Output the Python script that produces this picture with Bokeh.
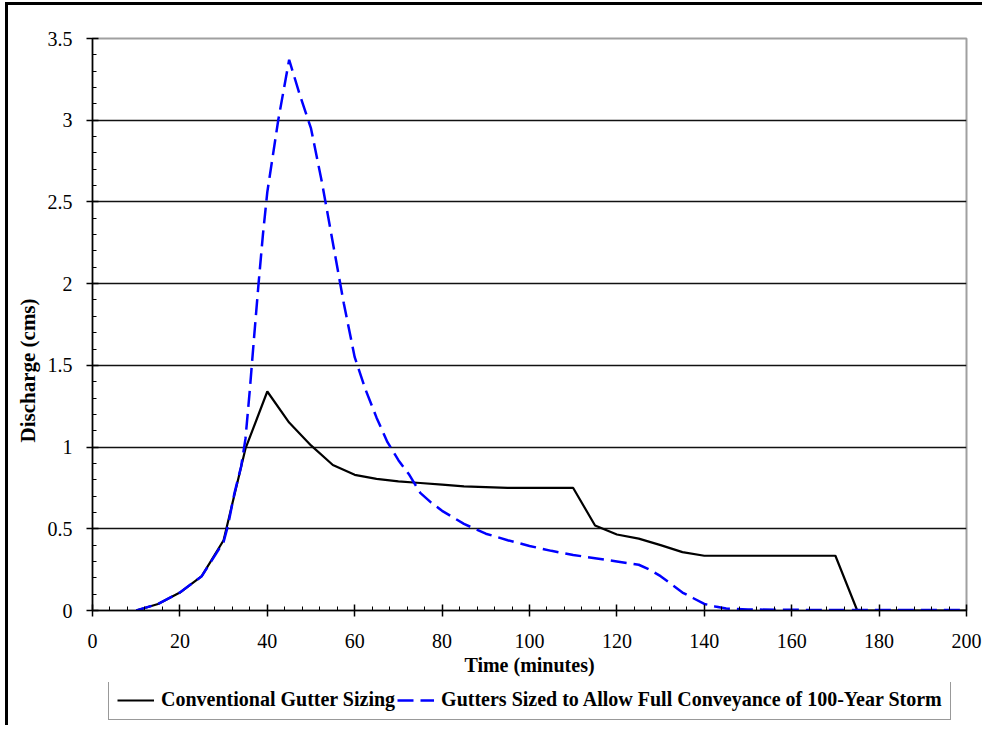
from bokeh.plotting import figure
from bokeh.layouts import column
from bokeh.models import (Legend, LegendItem, FixedTicker, SingleIntervalTicker,
                          Range1d, NumeralTickFormatter, Title)
from bokeh.embed import file_html
from bokeh.resources import INLINE

# Data
conv_time = [10, 15, 20, 25, 30, 35, 40, 45, 50, 55, 60, 65, 70, 75, 80, 85, 90, 95,
             100, 105, 110, 115, 120, 125, 130, 135, 140, 145, 150, 155, 160, 165, 170,
             175, 180, 185, 190, 195, 200]
conv_q = [0.0, 0.04, 0.11, 0.21, 0.43, 0.99, 1.34, 1.15, 1.01, 0.89, 0.83, 0.805, 0.79,
          0.78, 0.77, 0.76, 0.755, 0.75,
          0.75, 0.75, 0.75, 0.52, 0.465, 0.44, 0.40, 0.357, 0.335, 0.335, 0.335, 0.335,
          0.335, 0.335, 0.335,
          0.0, 0.0, 0.0, 0.0, 0.0, 0.0]

full_time = [10, 15, 20, 25, 30, 31, 32.5, 34, 35, 36, 37, 38, 39, 40, 42.5, 45, 47.5,
             50, 52.5, 55, 57.5, 60, 62.5, 65, 67.5, 70, 72.5, 75, 77.5, 80, 85, 90, 95,
             100, 105, 110, 115, 120, 125, 127.5, 130, 132.5, 135, 137.5, 140, 142.5,
             145, 150, 160, 170, 180, 190, 200]
full_q = [0.0, 0.04, 0.11, 0.21, 0.42, 0.52, 0.72, 0.88, 1.05, 1.35, 1.68, 2.0, 2.3,
          2.56, 3.0, 3.37, 3.15,
          2.95, 2.62, 2.25, 1.88, 1.55, 1.35, 1.18, 1.03, 0.92, 0.83, 0.72, 0.66, 0.61,
          0.53, 0.47, 0.43,
          0.395, 0.365, 0.34, 0.32, 0.30, 0.28, 0.25, 0.21, 0.16, 0.11, 0.075, 0.04,
          0.025, 0.012, 0.006, 0.004, 0.003, 0.003, 0.003, 0.003]

grid_values = [0.5, 1.0, 1.5, 2.0, 2.5, 3.0]

series_labels = ["Conventional Gutter Sizing",
                 "Gutters Sized to Allow Full Conveyance of 100-Year Storm"]
x_title = "Time (minutes)"
y_title = "Discharge (cms)"

FONT = "Liberation Serif"
CONV_STYLE = dict(line_color="black", line_width=2.2)
FULL_STYLE = dict(line_color="#0000ff", line_width=2.5, line_dash="16 7")

# ---------------- main chart ----------------
p = figure(width=974, height=677, x_range=Range1d(0, 200), y_range=Range1d(0, 3.5),
           output_backend="svg", toolbar_location=None,
           min_border_left=84, min_border_top=33, min_border_right=16,
           min_border_bottom=72)

p.background_fill_color = "white"
p.border_fill_color = "white"
p.outline_line_color = "#a0a0a0"
p.outline_line_width = 2

p.xgrid.visible = False
p.ygrid.ticker = FixedTicker(ticks=grid_values)
p.ygrid.grid_line_color = "#111111"
p.ygrid.grid_line_width = 1.6

p.xaxis.ticker = SingleIntervalTicker(interval=20, num_minor_ticks=5)
p.yaxis.ticker = SingleIntervalTicker(interval=0.5, num_minor_ticks=5)
p.yaxis.formatter = NumeralTickFormatter(format="0.[0]")

for ax in (p.xaxis[0], p.yaxis[0]):
    ax.axis_line_color = "black"
    ax.axis_line_width = 1.5
    ax.major_tick_line_color = "black"
    ax.major_tick_line_width = 1.5
    ax.minor_tick_line_color = "black"
    ax.minor_tick_line_width = 1
    ax.major_tick_in = 6
    ax.major_tick_out = 6
    ax.minor_tick_in = 4
    ax.minor_tick_out = 0
    ax.major_label_text_font = FONT
    ax.major_label_text_font_size = "20px"
    ax.major_label_text_color = "black"
    ax.axis_label_text_font = FONT
    ax.axis_label_text_font_size = "20px"
    ax.axis_label_text_font_style = "bold"
    ax.axis_label_text_color = "black"

p.xaxis.axis_label = x_title
p.xaxis.major_label_standoff = 17
p.yaxis.major_label_standoff = 14
p.xaxis.axis_label_standoff = 3

ytitle = Title(text=y_title, align="left", offset=168,
               text_font=FONT, text_font_size="21px", text_font_style="bold",
               text_color="black", standoff=10)
p.add_layout(ytitle, "left")

r1 = p.line(conv_time, conv_q, **CONV_STYLE)
r2 = p.line(full_time, full_q, **FULL_STYLE)

# ---------------- legend strip below the chart ----------------
lf = figure(width=974, height=43, x_range=Range1d(-2, -1), y_range=Range1d(0, 1),
            output_backend="svg", toolbar_location=None,
            x_axis_location=None, y_axis_location=None,
            min_border_left=0, min_border_right=0, min_border_top=0,
            min_border_bottom=0)
lf.grid.visible = False
lf.outline_line_color = None
lf.background_fill_color = "white"
lf.border_fill_color = "white"

l1 = lf.line(conv_time, conv_q, **CONV_STYLE)
l2 = lf.line(full_time, full_q, **FULL_STYLE)

legend = Legend(items=[LegendItem(label=series_labels[0], renderers=[l1]),
                       LegendItem(label=series_labels[1], renderers=[l2])],
                location=(16, 5), orientation="horizontal",
                border_line_color="#333333", border_line_width=1.5,
                background_fill_color="white", background_fill_alpha=1,
                label_text_font=FONT, label_text_font_style="bold",
                label_text_font_size="20px", label_text_color="black",
                glyph_width=37, glyph_height=20, label_height=20,
                label_standoff=7, spacing=2, padding=8, margin=0)
lf.add_layout(legend, "center")

layout = column(p, lf, spacing=0)
layout.styles = {"border-left": "3px solid black", "border-top": "3px solid black",
                 "margin-left": "5px", "margin-top": "2px"}

open("out.html", "w").write(file_html(layout, INLINE))
